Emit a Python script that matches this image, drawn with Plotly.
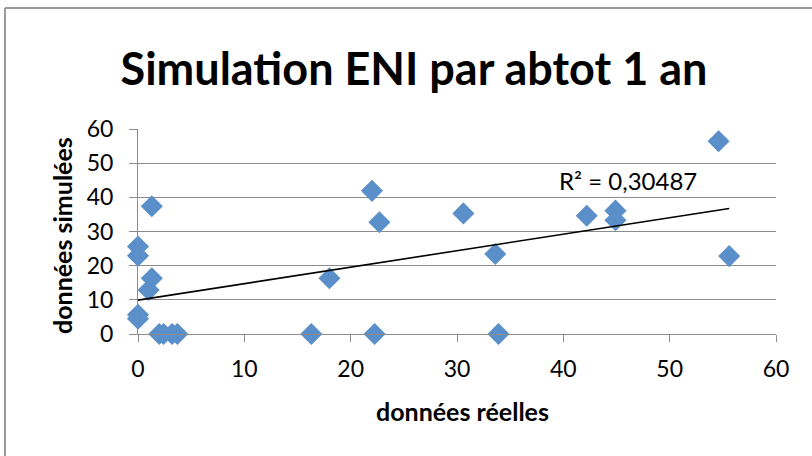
import numpy as np
import plotly.graph_objects as go

# data
reelles = [0, 0, 0, 0, 1.3, 1.3, 1.0, 2.0, 2.4, 3.2, 3.7, 16.3, 18.0, 22.0, 22.25, 22.7,
           30.6, 33.6, 33.9, 42.2, 44.9, 44.9, 54.6, 55.6]
simulees = [25.6, 22.9, 5.6, 4.5, 37.4, 16.3, 12.9, 0, 0, 0, 0, 0, 16.3, 41.9, 0, 32.7,
            35.3, 23.4, 0, 34.6, 36.1, 33.3, 56.4, 22.8]
x_ticks = [0, 10, 20, 30, 40, 50, 60]
y_ticks = [0, 10, 20, 30, 40, 50, 60]
title_text = "Simulation ENI par abtot 1 an"
r2_text = "R² = 0,30487"

xa = np.array(reelles)
ya = np.array(simulees)
slope, intercept = np.polyfit(xa, ya, 1)
tx = np.array([xa.min(), xa.max()])
ty = slope * tx + intercept

FONT = "Lato"
GRID = "#8c8c8c"

fig = go.Figure()
fig.add_trace(go.Scatter(
    x=reelles, y=simulees, mode="markers",
    marker=dict(symbol="diamond", size=17, color="#5b8fc9", line=dict(width=0)),
    showlegend=False, cliponaxis=False))
fig.add_trace(go.Scatter(
    x=tx, y=ty, mode="lines", line=dict(color="black", width=1.6),
    showlegend=False))

W, H = 812, 456
L, R, T, B = 138, 36, 129, 122
pw, ph = W - L - R, H - T - B

def px_x(p):
    return (p - L) / pw

def px_y(p):
    return (H - B - p) / ph

fig.update_layout(
    width=W, height=H,
    margin=dict(l=L, r=R, t=T, b=B),
    paper_bgcolor="white", plot_bgcolor="white",
    font=dict(family=FONT, color="black"),
    title=dict(text="<b>" + title_text + "</b>", x=414 / W, xanchor="center",
               y=1 - 69 / H, yanchor="middle", font=dict(size=45, family=FONT)),
    xaxis=dict(range=[0, 60], tickvals=x_ticks, ticktext=[str(v) for v in x_ticks],
               showgrid=False, zeroline=False, showline=True, linecolor=GRID, linewidth=1,
               ticks="outside", ticklen=7, tickcolor=GRID, tickfont=dict(size=23),
               ticklabelstandoff=7, fixedrange=True),
    yaxis=dict(range=[0, 60], tickvals=y_ticks, ticktext=[str(v) for v in y_ticks],
               showgrid=True, gridcolor=GRID, gridwidth=1, zeroline=False,
               showline=True, linecolor=GRID, linewidth=1,
               ticks="outside", ticklen=8, tickcolor=GRID, tickfont=dict(size=23),
               ticklabelstandoff=11, fixedrange=True),
    annotations=[
        dict(text="<b>données réelles</b>", xref="paper", yref="paper",
             x=px_x(462), y=px_y(411), xanchor="center", yanchor="middle",
             showarrow=False, font=dict(size=25)),
        dict(text="<b>données simulées</b>", xref="paper", yref="paper",
             x=px_x(62), y=px_y(236), xanchor="center", yanchor="middle",
             textangle=-90, showarrow=False, font=dict(size=25)),
        dict(text=r2_text, xref="paper", yref="paper",
             x=px_x(628), y=px_y(180), xanchor="center", yanchor="middle",
             showarrow=False, font=dict(size=24)),
    ],
    shapes=[
        dict(type="line", xref="paper", yref="paper",
             x0=px_x(5), x1=px_x(812), y0=px_y(8), y1=px_y(8),
             line=dict(color="#9a9a9a", width=2)),
        dict(type="line", xref="paper", yref="paper",
             x0=px_x(5), x1=px_x(5), y0=px_y(8), y1=px_y(456),
             line=dict(color="#9a9a9a", width=2)),
    ],
)

fig.write_html("out.html", config={"displayModeBar": False},
               post_script="document.body.style.margin='0';")
